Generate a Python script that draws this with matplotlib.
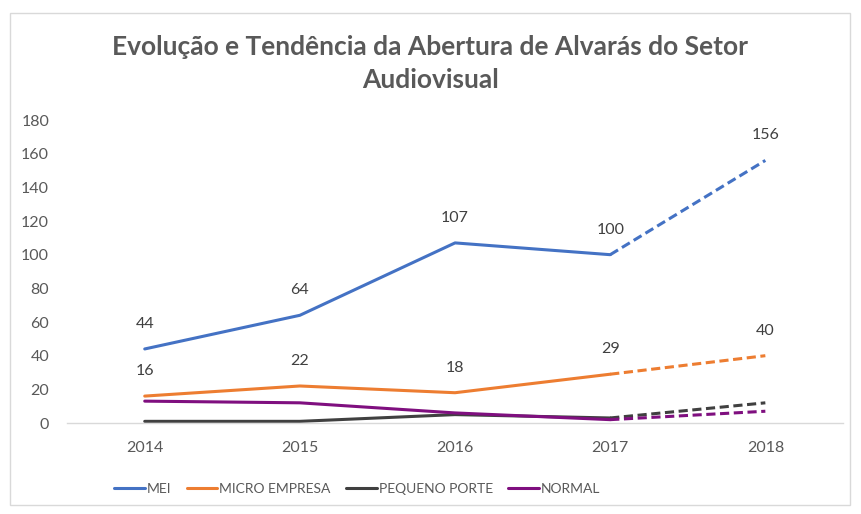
import matplotlib
matplotlib.use("Agg")
import matplotlib.pyplot as plt
from matplotlib.patches import Rectangle

# data
years = ["2014", "2015", "2016", "2017", "2018"]
mei = [44, 64, 107, 100, 156]
micro = [16, 22, 18, 29, 40]
pequeno = [1, 1, 5, 3, 12]
normal = [13, 12, 6, 2, 7]

series = [
    ("MEI", mei, "#4472C4", True),
    ("MICRO EMPRESA", micro, "#ED7D31", True),
    ("PEQUENO PORTE", pequeno, "#404040", False),
    ("NORMAL", normal, "#7F0F7F", False),
]

plt.rcParams["font.family"] = ["Lato", "DejaVu Sans"]
grey = "#595959"

fig = plt.figure(figsize=(8.61, 5.14), dpi=100)
ax = fig.add_axes([0.078, 0.177, 0.901, 0.5895])

x = list(range(len(years)))
for name, vals, col, labelled in series:
    # observed part solid, forecast part dashed
    ax.plot(x[:4], vals[:4], color=col, lw=2.2, solid_capstyle="round", label=name)
    ax.plot(x[3:], vals[3:], color=col, lw=2.2, ls=(0, (3, 1.5)))
    if labelled:
        for xi, v in zip(x, vals):
            ax.annotate(str(v), (xi, v), xytext=(0, 18), textcoords="offset points",
                        ha="center", va="center", fontsize=11.5, color="#404040")

ax.set_xlim(-0.5, 4.5)
ax.set_ylim(0, 180)
ax.set_yticks(range(0, 181, 20))
ax.set_xticks(x)
ax.set_xticklabels(years)
ax.tick_params(length=0, labelsize=11.5, colors=grey)
ax.tick_params(axis="x", pad=13)
ax.tick_params(axis="y", pad=13)
for s in ["top", "right", "left"]:
    ax.spines[s].set_visible(False)
ax.spines["bottom"].set_color("#D9D9D9")
ax.spines["bottom"].set_linewidth(1)

fig.text(0.5, 0.877, "Evolução e Tendência da Abertura de Alvarás do Setor\nAudiovisual",
         ha="center", va="center", fontsize=19, fontweight="bold", color=grey,
         linespacing=1.45)

leg = fig.legend(loc="center", bbox_to_anchor=(0.415, 0.048), ncol=4, frameon=False,
                 fontsize=10, handlelength=2.2, columnspacing=1.1, handletextpad=0.15)
for t in leg.get_texts():
    t.set_color(grey)

fig.patches.append(Rectangle((10 / 861, 9 / 514), 840 / 861, 492 / 514,
                             transform=fig.transFigure, fill=False,
                             edgecolor="#D9D9D9", lw=1))

fig.savefig("out.png", dpi=100)
